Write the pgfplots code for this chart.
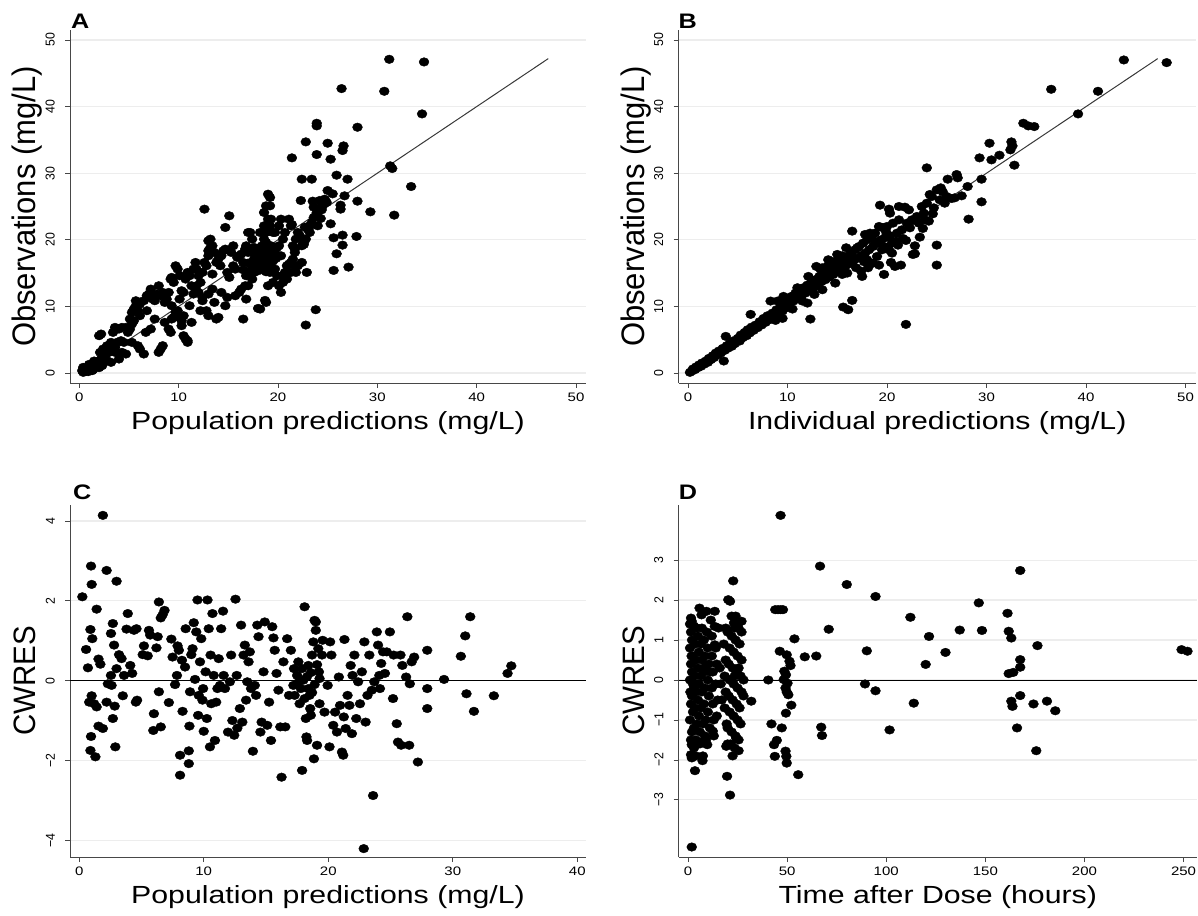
\documentclass[border=0pt]{standalone}
\usepackage{fontspec}
\setmainfont{Liberation Sans}
\usepackage{pgfplots}
\pgfplotsset{compat=1.18}
\newcommand{\ticksize}{\fontsize{12.3}{12.3}\selectfont}
\newcommand{\xtitlesize}{\fontsize{24.8}{24.8}\selectfont}
\newcommand{\lettersize}{\bfseries\fontsize{21}{21}\selectfont}
\pgfplotsset{
  panel/.style={
    scale only axis, anchor=south west,
    axis x line=bottom, axis y line=left,
    axis line style={-, draw=black!72, line width=0.8pt},
    tick align=outside, major tick length=5pt,
    tick style={draw=black!72, line width=0.8pt},
    ymajorgrids, major grid style={draw=black!7, line width=1.2pt},
    yticklabel style={rotate=90, yscale=1.05, anchor=south, inner sep=0pt, font=\ticksize},
    xticklabel style={xscale=1.22, anchor=north, inner sep=0pt, font=\ticksize},
    xticklabel shift=5pt, yticklabel shift=10pt,
    xlabel style={at={(axis description cs:0.5,-0.133)}, anchor=base, xscale=1.22, font=\xtitlesize},
    ylabel style={at={(axis description cs:-0.066,0.5)}, anchor=base, yscale=1.05},
    clip=false,
  },
  dots/.style={only marks, mark=*, mark size=4.3pt, mark options={fill=black, draw=black, xscale=1.15}},
}
\begin{document}
\begin{tikzpicture}
\useasboundingbox (0,0) rectangle (1198pt,915pt);
% ---------------- A ----------------
\begin{axis}[panel, at={(70pt,532pt)}, width=516pt, height=353pt,
  xmin=-0.93, xmax=51.0, ymin=-1.5, ymax=51.5,
  xtick={0,10,20,30,40,50}, xticklabels={0,10,20,30,40,50},
  ytick={0,10,20,30,40,50}, yticklabels={0,10,20,30,40,50},
  ylabel style={font=\fontsize{31}{31}\selectfont},
  xlabel={Population predictions (mg/L)}, ylabel={Observations (mg/L)}]
\addplot[dots] coordinates {
(0.3,0.35)(0.5,0.6)(0.7,0.5)(0.9,0.85)(1.1,0.7)(1.3,1.1)(1.5,0.85)(1.7,1.35)(1.8,1.6)(2.0,1.85)(2.2,2.1)(2.4,2.35)(0.9,0.2)(1.3,0.35)(0.4,0.85)(0.6,0.2)(0.8,0.5)(1.0,0.4)(1.2,0.9)(1.4,0.5)(1.6,1.0)(1.9,1.2)(2.1,1.5)(2.3,1.1)(0.4,0.1)(1.0,1.3)(1.5,1.8)(2.5,1.8)(2.6,2.5)(2.0,0.8)
(2.1,3.1)(2.4,3.6)(2.0,5.6)(2.2,5.85)(2.8,4.1)(3.0,3.1)(3.2,4.6)(3.4,6.1)(3.6,6.85)(4.0,6.6)(4.3,6.85)(4.7,6.85)(3.2,3.6)(3.6,3.85)(3.8,4.6)(4.2,4.85)(4.5,4.6)(4.9,6.1)(5.1,6.6)(5.3,7.35)(5.5,7.85)(4.3,3.1)(4.7,2.85)(4.0,2.1)(3.6,3.1)(2.8,1.85)(3.2,1.6)
(5.1,8.1)(5.3,9.1)(5.5,9.6)(5.7,10.1)(5.9,9.35)(6.1,8.6)(5.9,4.1)(6.1,3.6)(5.3,4.6)(6.5,2.85)(6.7,6.1)(6.8,11.6)(7.0,11.85)(7.2,12.6)(7.4,11.1)(7.6,10.85)(7.8,11.85)(8.0,13.1)(8.2,11.6)(8.4,12.1)(8.6,10.6)(8.8,11.1)(9.0,12.1)(9.2,14.1)(9.3,14.35)(9.5,13.6)(9.7,16.1)(9.9,15.6)(10.1,14.6)(8.2,3.6)(8.0,3.1)(8.4,4.1)(9.0,6.6)(9.2,6.1)(9.3,8.1)(9.5,8.35)(9.7,9.1)(9.9,9.35)(10.1,8.35)(10.3,7.85)(10.5,5.6)(10.7,5.1)(10.9,4.85)(8.6,7.6)(9.3,10.1)(10.1,11.1)(7.2,6.6)(7.6,8.1)(6.8,9.35)(6.5,10.85)(6.1,10.35)(5.7,10.85)
(10.3,12.35)(10.5,12.1)(10.7,14.1)(10.9,15.1)(11.1,14.6)(11.3,13.1)(11.5,11.85)(11.7,12.6)(11.8,15.6)(12.0,14.6)(12.2,13.6)(12.4,15.1)(12.6,16.6)(12.8,16.1)(13.0,17.6)(13.2,18.85)(13.4,19.1)(13.6,18.1)(13.8,16.6)(14.0,17.1)(14.2,16.1)(14.3,17.6)(14.5,18.35)(14.7,18.6)(14.9,15.1)(15.1,14.35)(15.3,18.1)(15.5,19.1)(13.0,19.85)(13.2,20.1)(12.6,24.6)(13.0,18.35)(12.0,12.1)(12.4,10.85)(12.8,9.35)(13.0,8.6)(13.4,12.6)(13.6,10.6)(13.8,8.1)(14.0,8.35)(14.3,12.1)(14.7,10.1)(14.9,11.35)(15.1,23.6)(14.7,21.85)(11.5,15.6)(11.7,16.6)(11.8,13.1)(11.1,10.1)(10.5,8.6)(10.3,7.1)(10.9,4.6)(11.3,7.6)(12.2,9.35)(12.4,11.35)(13.0,11.85)(13.4,14.85)
(15.5,16.1)(15.7,15.6)(15.9,17.35)(16.1,17.6)(16.3,17.85)(16.5,16.6)(16.7,18.6)(16.8,19.1)(17.0,18.1)(17.2,21.1)(17.4,20.1)(17.6,17.1)(17.8,16.6)(18.0,17.6)(18.2,18.1)(18.4,19.1)(18.6,20.1)(18.8,21.1)(19.0,21.6)(19.2,22.1)(19.3,19.1)(19.5,17.6)(19.7,18.1)(19.9,18.85)(18.6,24.1)(18.8,25.1)(19.0,26.85)(19.2,26.35)(19.2,25.1)(19.3,23.1)(19.5,21.1)(18.0,15.35)(18.2,15.85)(18.4,16.6)(18.6,17.6)(18.8,18.1)(19.0,17.1)(17.6,15.1)(17.2,15.35)(16.8,14.6)(16.7,13.1)(16.3,12.6)(16.1,12.1)(16.8,11.1)(16.5,8.1)(15.7,11.6)(19.0,13.1)(18.8,10.6)(18.2,9.6)(19.0,16.35)(19.3,16.6)(19.7,15.6)(19.9,14.6)(19.5,13.6)(19.2,15.1)(17.4,14.1)(17.0,13.1)(17.4,18.1)(17.0,21.1)(18.2,21.1)(18.6,22.1)(19.0,23.1)(18.8,19.6)(19.0,18.6)(19.2,18.1)(19.3,17.6)(18.0,18.35)(17.6,18.85)(17.2,18.35)(18.2,18.85)(18.6,16.35)(18.4,16.85)(18.2,17.1)(17.5,16)(18.5,17)(19,16)(17.8,17.8)(18.3,16.3)(19.5,16.8)(17,16.5)(16.5,15.5)(18.8,15.2)(19.8,17.2)
(20.1,19.1)(20.3,17.6)(20.5,14.6)(20.7,15.1)(20.9,16.1)(21.1,16.35)(21.3,16.6)(21.5,17.1)(21.7,18.1)(21.8,20.1)(22.0,21.1)(22.2,20.6)(22.4,19.1)(22.6,19.6)(22.8,20.1)(23.0,21.6)(23.2,22.1)(23.4,22.6)(23.6,23.35)(23.8,23.6)(24.0,24.1)(24.2,24.6)(24.3,24.85)(24.5,25.1)(24.7,26.1)(24.9,25.6)(20.5,20.1)(20.7,21.1)(21.1,23.1)(21.3,22.1)(20.1,22.1)(20.3,23.1)(19.7,21.1)(21.5,19.1)(21.7,16.1)(21.8,15.1)(22.0,16.1)(22.4,16.6)(21.3,15.1)(20.9,14.1)(20.5,13.6)(20.1,13.1)(20.3,12.1)
(31.2,47.1)(34.7,46.7)(26.4,42.7)(30.7,42.3)(34.5,38.9)(28.0,36.9)(23.9,37.5)(23.9,37.1)(22.8,34.7)(25.0,34.5)(26.6,34.1)(26.5,33.4)(23.9,32.8)(25.3,32.1)(21.4,32.3)(31.3,31.1)(31.5,30.7)(22.4,29.1)(23.4,29.1)(25.9,29.7)(27.0,29.1)(33.4,28.0)(25.0,27.4)(25.5,26.9)(26.7,26.6)(22.3,25.9)(23.5,25.8)(24.2,25.9)(24.7,26.0)(28.0,25.8)(26.3,25.2)(26.3,24.6)(29.3,24.2)(31.7,23.7)(23.9,24.1)(24.4,24.5)(23.6,24.9)(25.3,22.4)(24.3,23.2)(24.0,22.1)(22.7,21.9)(23.2,21.1)(25.6,20.3)(26.5,20.7)(27.9,20.5)(26.5,19.2)(25.9,17.9)(25.6,15.4)(27.1,15.9)(22.9,15.1)(23.8,9.5)(22.8,7.2)(21.4,22.3)(22.6,19.3)(21.7,18.6)(18.0,9.7)(18.7,10.9)
};
\addplot[black!78, line width=1pt] coordinates {(0.2,0.2) (47.2,47.2)};
\node[anchor=south west, inner sep=0pt, xscale=1.2, font=\lettersize] at ([xshift=1pt,yshift=1pt]rel axis cs:0,1) {A};
\end{axis}
% ---------------- B ----------------
\begin{axis}[panel, at={(678.5pt,532pt)}, width=517.5pt, height=353pt,
  xmin=-0.95, xmax=51.05, ymin=-1.5, ymax=51.5,
  xtick={0,10,20,30,40,50}, xticklabels={0,10,20,30,40,50},
  ytick={0,10,20,30,40,50}, yticklabels={0,10,20,30,40,50},
  ylabel style={font=\fontsize{31}{31}\selectfont},
  xlabel={Individual predictions (mg/L)}, ylabel={Observations (mg/L)}]
\addplot[dots] coordinates {
(0.2,0.1)(0.4,0.3)(0.5,0.6)(0.7,0.5)(0.8,0.9)(1.0,0.8)(1.1,1.2)(1.3,1.0)(1.4,1.5)(1.6,1.3)(1.8,1.8)(2.0,1.6)(2.1,2.2)(2.3,2.0)(2.5,2.6)(2.6,2.3)(2.8,3.0)(3.0,2.7)(3.1,3.3)(3.3,3.0)(3.5,3.7)(3.6,1.8)(3.7,3.4)(3.9,4.1)(4.0,3.7)(4.2,4.4)(4.4,4.0)(4.5,4.8)(4.7,4.4)(3.8,5.5)(5.0,5.2)(5.2,4.8)(5.3,5.7)(5.5,5.3)(5.7,6.1)(5.9,5.6)(6.0,6.5)(6.2,6.0)(6.3,8.8)(6.4,6.9)(6.6,6.4)(6.8,7.2)(7.0,6.8)(7.2,7.7)(7.4,7.2)(7.6,8.2)(7.8,7.6)(8.0,8.6)(8.2,8.0)(8.3,10.8)(8.5,9.0)(8.7,8.5)(8.9,9.5)(9.0,10.8)(9.1,8.8)(9.3,9.9)(9.5,9.3)(9.6,11.5)(9.7,10.4)(9.9,9.8)(10.0,11.0)(10.2,10.3)(10.4,11.5)(10.6,10.8)(10.8,12.0)(11.0,11.2)(11.2,12.3)(11.4,11.6)(11.6,12.8)(11.8,12.0)(12.0,13.2)(12.1,14.5)(12.2,12.4)(12.3,8.1)(12.4,13.6)(12.6,12.8)(12.8,14.0)(12.9,16.0)(13.0,13.2)(13.2,14.5)(13.4,13.7)(13.5,15.8)(13.6,15.0)(13.8,14.0)(14.0,15.4)(14.2,14.4)(14.3,16.8)(14.4,15.8)(14.6,14.8)(14.8,16.3)(15.0,15.2)(15.1,17.2)(15.2,16.7)(15.4,15.6)(15.5,17.6)(15.6,9.9)(15.6,16.9)(15.8,16.0)(16.0,17.5)(16.1,9.5)(16.2,16.4)(16.4,18.0)(16.5,10.9)(16.5,21.3)(16.6,16.8)(16.8,18.5)(17.0,17.2)(17.2,19.0)(17.4,17.6)(17.5,14.5)(17.6,19.5)(17.8,18.0)(18.0,20.0)(18.2,18.5)(18.3,21.0)(18.4,20.5)(18.6,19.0)(18.8,21.0)(19.0,19.5)(19.2,22.0)(19.3,25.2)(19.4,20.0)(19.6,21.8)(19.7,14.8)(19.8,20.3)(20.0,22.0)(20.2,24.6)(20.3,20.6)(20.5,18.0)(20.6,22.5)(20.8,16.0)(21.0,21.0)(21.2,23.0)(21.4,16.2)(21.5,21.5)(21.8,24.9)(21.9,7.3)(22.0,22.5)(22.2,24.5)(22.5,23.0)(22.8,19.1)(22.8,17.9)(23.0,23.5)(23.3,20.4)(23.5,25.0)(23.7,24.0)(24.0,30.8)(24.0,25.5)(24.2,22.8)(24.5,26.5)(24.7,24.8)(25.0,27.5)(25.0,19.2)(25.0,16.2)(25.3,26.0)(25.6,27.2)(26.0,26.5)(26.1,29.1)(26.5,26.2)(27.0,29.8)(27.1,29.3)(27.5,26.6)(28.1,28.0)(28.2,23.1)(29.5,29.1)(29.5,25.7)(29.3,32.3)(30.3,34.5)(30.5,32.0)(31.3,32.7)(32.4,33.5)(32.5,34.7)(32.6,34.1)(32.8,31.2)(33.7,37.5)(34.2,37.1)(34.8,37.0)(36.5,42.6)(39.2,38.9)(41.2,42.3)(43.8,47.0)(48.1,46.6)
(14,16)(15,17.8)(16,15)(17,18.8)(18,17)(16.5,17.5)(15.5,14.8)(14.8,13.5)(13.5,12.5)(17.8,20.8)(18.8,19.8)(19.5,18.5)(20.5,19.5)(19,17.5)(16.9,15.8)(15.9,18.8)(14.1,17.0)(13.3,15.6)(12.7,11.8)(11.5,10.8)(10.5,9.6)(12,10.5)(11,12.8)(9.5,8.2)(8.8,7.9)(22.3,21.8)(23.8,23.0)(21.6,20.2)(20.9,19.8)(22.6,22.9)(24.6,23.9)(25.8,25.5)(26.8,26.3)(24.3,26.8)(25.4,27.8)(23.2,22.5)(21.2,25.0)(20.3,24.0)(19.9,21.2)(21.1,19.2)(20.2,18.5)(19.2,16.2)(18.1,15.8)(17.4,15.3)(18.6,16.5)(17.7,16.7)(19.7,19.0)(22.6,17.8)(20.4,16.6)(21.9,19.9)(23.6,21.7)
};
\addplot[black!78, line width=1pt] coordinates {(0.2,0.2) (47.2,47.2)};
\node[anchor=south west, inner sep=0pt, xscale=1.2, font=\lettersize] at ([yshift=1pt]rel axis cs:0,1) {B};
\end{axis}
% ---------------- C ----------------
\begin{axis}[panel, at={(70pt,58pt)}, width=516pt, height=352pt,
  xmin=-0.74, xmax=40.7, ymin=-4.42, ymax=4.40,
  xtick={0,10,20,30,40}, xticklabels={0,10,20,30,40},
  ytick={-4,-2,0,2,4}, yticklabels={−4,−2,0,2,4},
  ylabel style={font=\fontsize{29.5}{29.5}\selectfont},
  xlabel={Population predictions (mg/L)}, ylabel={CWRES}]
\addplot[dots] coordinates {
(1.9,4.14)(0.95,2.87)(1.0,2.41)(2.2,2.76)(3.0,2.49)(0.25,2.10)(1.4,1.79)(0.55,0.78)(0.7,0.32)(0.9,1.28)(1.05,1.05)(1.55,0.54)(1.7,0.41)(0.8,-0.54)(1.0,-0.38)(1.2,-0.58)(1.4,-0.66)(0.95,-1.40)(0.9,-1.75)(1.3,-1.91)(1.55,-1.14)(1.9,-1.2)(2.2,-0.54)(2.3,-0.08)(2.6,-0.12)(2.55,0.13)(2.7,1.43)(2.55,1.18)(2.8,0.89)(2.85,-0.64)(2.7,-0.95)(2.9,-1.66)(3.0,0.30)(3.2,0.65)(3.4,0.55)(3.5,-0.38)(3.6,0.13)(3.9,1.68)(3.8,1.29)(4.1,0.38)(4.25,0.18)(4.4,1.26)(4.6,1.3)(4.65,-0.49)(4.55,-0.54)(5.1,0.65)(5.2,0.87)(5.5,0.62)(5.6,1.26)(5.7,1.14)(5.95,-1.25)(6.0,-0.83)(6.2,0.82)(6.3,1.1)(6.4,1.97)(6.55,1.57)(6.7,1.65)(6.85,1.76)(6.4,-0.28)(6.55,-1.16)(7.2,-0.55)(7.4,1.04)(7.5,0.59)(7.7,-0.10)(7.85,0.13)(7.9,0.87)(8.0,0.76)(8.1,-2.37)(8.1,-1.87)(8.3,-0.77)(8.25,0.51)(8.5,0.34)(8.55,1.3)(8.8,-1.76)(8.8,-2.08)(8.85,-1.14)(8.9,-0.28)(9.0,0.65)(9.1,0.8)(9.2,1.45)(9.3,0.03)(9.4,1.22)(9.5,2.02)(9.55,-0.87)(9.6,-0.37)(9.7,0.47)(9.8,1.05)(9.9,-0.49)(9.95,-0.2)(10.0,-1.27)(10.15,0.22)(10.25,-0.95)(10.3,2.02)(10.4,1.3)(10.5,-1.66)(10.55,0.64)(10.6,-0.58)(10.7,1.68)(10.8,0.13)(10.9,-1.5)(11.0,-0.54)(11.1,-0.2)(11.2,0.55)(11.3,-0.12)(11.4,1.3)(11.55,1.74)(11.6,0.13)(11.7,-0.2)(11.95,-1.29)(12.1,-0.03)(12.2,0.64)(12.3,-1.0)(12.45,-1.37)(12.55,2.04)(12.65,0.13)(12.7,-1.19)(12.9,-0.7)(13.0,1.39)(13.1,-1.04)(13.2,0.64)(13.3,0.89)(13.4,-0.49)(13.5,-0.03)(13.6,0.47)(13.7,0.72)(13.8,-0.2)(13.95,-1.77)(14.1,-0.12)(14.2,-0.37)(14.3,1.39)(14.4,1.1)(14.55,-1.29)(14.65,-1.04)(14.8,0.22)(14.9,1.47)(15.1,-1.12)(15.25,-0.54)(15.4,-1.5)(15.5,1.35)(15.6,1.07)(15.7,0.76)(15.85,0.18)(16.0,-0.24)(16.15,-1.16)(16.25,-2.42)(16.4,0.47)(16.55,-1.16)(16.7,1.05)(16.85,-0.37)(17.0,0.76)(17.2,-0.12)(17.25,0.3)(17.3,-0.37)(17.5,0.13)(17.6,0.47)(17.7,-0.58)(17.8,-0.2)(17.9,-2.25)(18.0,0.01)(18.1,1.85)(18.2,-0.95)(18.25,-1.41)(18.3,-1.5)(18.4,0.38)(18.5,-0.37)(18.55,-0.7)(18.6,-0.87)(18.7,0.64)(18.8,0.97)(18.85,-1.96)(18.9,1.51)(19.0,1.47)(19.0,1.26)(19.1,-1.62)(19.2,0.8)(19.25,0.22)(19.3,-0.58)(19.5,0.64)(19.55,1.01)(19.7,-0.79)(19.95,-0.12)(20.1,-1.66)(20.15,0.97)(20.25,0.64)(20.4,-1.12)(20.55,-0.79)(20.7,-1.29)(20.85,0.09)(20.95,-0.62)(21.1,-1.79)(21.2,-1.87)(21.25,-0.91)(21.3,1.03)(21.4,-1.2)(21.55,-0.37)(21.7,-0.62)(21.8,0.38)(21.9,-1.33)(21.95,0.13)(22.1,0.64)(22.25,-0.95)(22.4,-0.03)(22.55,-0.58)(22.7,0.22)(22.85,-4.21)(22.9,0.97)(23.0,-1.04)(23.15,-0.37)(23.3,0.64)(23.5,-0.24)(23.6,-2.88)(23.7,-0.03)(23.9,1.22)(24.0,0.89)(24.1,0.13)(24.15,-0.2)(24.25,0.43)(24.4,0.72)(24.55,0.18)(24.7,0.72)(24.95,1.22)(25.2,-0.45)(25.25,0.64)(25.5,-1.08)(25.6,-1.54)(25.8,0.64)(25.85,-1.62)(25.95,0.38)(26.25,0.09)(26.35,1.6)(26.5,-1.62)(26.55,-0.08)(26.7,0.47)(26.9,0.59)(27.2,-2.04)(27.95,-0.7)(27.95,-0.2)(27.95,0.76)(29.3,0.03)(30.65,0.61)(31.0,1.12)(31.1,-0.33)(31.4,1.6)(31.7,-0.77)(33.3,-0.38)(34.4,0.18)(34.7,0.37)
(18.6,0.2)(18.9,-0.1)(18.3,0.1)(19.1,0.4)(18.7,-0.3)(17.9,0.3)(18.4,-0.2)(19.3,0.05)(18.1,-0.45)(17.6,-0.05)
};
\addplot[black, line width=0.9pt] coordinates {(-0.74,0) (40.7,0)};
\node[anchor=south west, inner sep=0pt, xscale=1.2, font=\lettersize] at ([xshift=3pt,yshift=5pt]rel axis cs:0,1) {C};
\end{axis}
% ---------------- D ----------------
\begin{axis}[panel, at={(678.5pt,58pt)}, width=518.5pt, height=352pt,
  xmin=-4.8, xmax=256.8, ymin=-4.43, ymax=4.38,
  xtick={0,50,100,150,200,250}, xticklabels={0,50,100,150,200,250},
  ytick={-3,-2,-1,0,1,2,3}, yticklabels={−3,−2,−1,0,1,2,3},
  ylabel style={font=\fontsize{29.5}{29.5}\selectfont},
  xlabel={Time after Dose (hours)}, ylabel={CWRES}]
\addplot[dots] coordinates {
(46.7,4.12)(66.6,2.85)(80.1,2.39)(94.6,2.09)(146.7,1.93)(167.6,2.74)(161.2,1.67)(112.2,1.57)(71.0,1.27)(137.1,1.25)(148.3,1.24)(121.6,1.09)(161.8,1.22)(163.1,1.05)(176.3,0.86)(90.2,0.73)(129.9,0.69)(58.9,0.58)(64.7,0.6)(119.9,0.39)(167.6,0.51)(167.6,0.32)(161.8,0.16)(164.1,0.19)(249,0.76)(252,0.72)(89.3,-0.1)(94.6,-0.27)(113.9,-0.58)(163.1,-0.53)(163.7,-0.66)(167.6,-0.39)(174.3,-0.6)(181.1,-0.53)(185.3,-0.77)(101.7,-1.25)(67.2,-1.18)(67.6,-1.39)(166.0,-1.2)(175.7,-1.77)(53.7,1.03)(55.6,-2.37)(40.5,0)(31.9,-0.53)
(44.0,1.76)(45.4,1.76)(46.7,1.76)(47.9,1.76)(46.3,0.72)(49.8,0.63)(51.2,0.47)(51.7,0.36)(48.6,0.22)(49.4,0.13)(48.3,0.01)(50.2,-0.08)(49.2,-0.2)(49.8,-0.3)(50.6,-0.37)(52.1,-0.63)(49.4,-0.83)(42.1,-1.1)(47.3,-1.2)(43.4,-1.62)(44.8,-1.51)(43.8,-1.91)(49.2,-1.78)(49.6,-1.91)(49.8,-2.08)
(1.9,-4.18)(1.5,1.55)(1.9,1.47)(5.8,1.8)(6.8,1.63)(9.3,1.72)(13.5,1.72)(13.5,1.34)(15.4,1.3)(20.3,2.01)(21.2,1.97)(22.8,2.48)(23.2,1.43)(23.5,1.3)(25.5,1.3)(27.0,1.47)(13.5,0.88)(1.9,-1.62)(1.5,-1.87)(1.9,-1.95)(3.5,-2.27)(7.3,-2.02)(9.7,-1.62)(12.5,-1.28)(19.3,-1.66)(19.7,-2.41)(21.2,-2.88)(25.5,-1.77)(24.3,-1.45)
(1,1.4)(1.5,1.2)(2,1.0)(1,0.8)(2.5,0.6)(1.5,0.4)(2,0.2)(1,0)(3,-0.2)(2,-0.4)(1.5,-0.6)(2.5,-0.8)(1,-1.0)(3,-1.2)(2,-1.3)(1.5,-1.5)(3.5,0.9)(4,0.5)(3.5,0.1)(4,-0.3)(3.5,-0.7)(4.5,-1.1)(4,-1.5)(5,1.1)(5.5,0.7)(5,0.3)(5.5,-0.1)(5,-0.5)(5.5,-0.9)(6,-1.3)(6.5,0.9)(7,0.5)(6.5,0.1)(7,-0.3)(6.5,-0.7)(7.5,-1.1)(7,1.3)(8,1.0)(8.5,0.6)(8,0.2)(8.5,-0.2)(8,-0.6)(9,-1.0)(8.5,-1.4)(9.5,1.2)(10,0.8)(10.5,0.4)(10,0)(10.5,-0.4)(10,-0.8)(11,-1.2)(11.5,1.5)(12,1.1)(12,0.6)(12.5,0.2)(12,-0.2)(12.5,-0.6)(13,-1.0)(14,0.8)(14.5,0.4)(14,-0.1)(15,-0.5)(14.5,-0.9)(13,-1.4)(6,-1.6)(3,-1.7)(7,-1.55)(9,-1.5)(11,0.2)(4.5,1.3)(3,1.35)(2.5,-0.1)(9,0.35)(1.2,-0.3)(1.8,0.6)(5,-1.6)(7.5,-1.9)(4,-1.9)
(18,0.9)(19,0.5)(18.5,0.1)(19,-0.3)(18.5,-0.7)(19.5,-1.1)(20,1.2)(21,0.8)(20.5,0.4)(21,0)(20.5,-0.4)(21,-0.8)(20,-1.2)(22,1.1)(23,0.7)(22.5,0.3)(23,-0.1)(22.5,-0.5)(23,-0.9)(22,-1.3)(24,1.0)(25,0.6)(24.5,0.2)(25,-0.2)(24.5,-0.6)(25,-1.0)(24,-1.4)(26,0.9)(27,0.5)(26.5,0.1)(27,-0.3)(26,-0.7)(26.5,-1.1)(25.5,-1.5)(28,0)(28,-0.4)(22,1.6)(24,1.6)(21.5,-1.6)(23.5,-1.7)(19,1.3)(20,-1.6)(22.5,-1.9)(27,1.2)(25.5,0.3)(23.5,0.1)(16,0.3)(17,-0.5)(16.5,-0.1)
};
\addplot[black, line width=0.9pt] coordinates {(-4.8,0) (256.8,0)};
\node[anchor=south west, inner sep=0pt, xscale=1.2, font=\lettersize] at ([yshift=5pt]rel axis cs:0,1) {D};
\end{axis}
\end{tikzpicture}
\end{document}
